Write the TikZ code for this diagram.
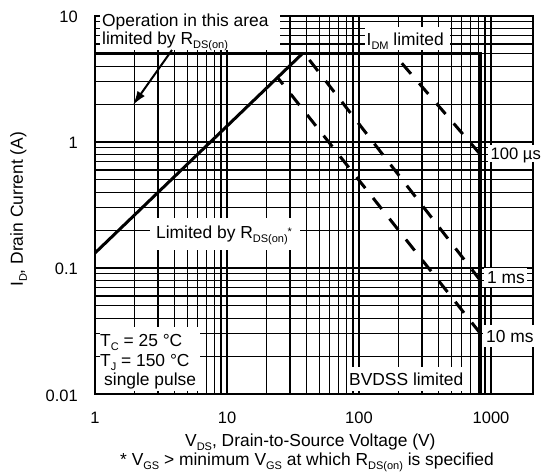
\documentclass[tikz,border=0pt]{standalone}
\usepackage{fontspec}
\setmainfont{Liberation Sans}
\usetikzlibrary{arrows.meta}
\newcommand{\sbs}[1]{\raisebox{-4pt}{\fontsize{11}{11}\selectfont #1}}
\newcommand{\sps}[1]{\raisebox{2.5pt}{\fontsize{11}{11}\selectfont #1}}
\begin{document}
\begin{tikzpicture}[x=1pt,y=-1pt,
  gridline/.style={line width=1.1pt},
  frame/.style={line width=2.2pt},
  limit/.style={line width=3pt},
  pulse/.style={line width=3pt, dash pattern=on 14pt off 12.5pt},
  mask/.style={fill=white},
  lbl/.style={inner sep=0pt, anchor=base west, font=\fontsize{17.4}{20}\selectfont},
  ticklbl/.style={inner sep=0pt, font=\fontsize{16.5}{20}\selectfont},
]
\useasboundingbox (0,0) rectangle (543,472);
% grid
\foreach \d in {0,1,2}{
  \foreach \k in {1,...,9}{
    \pgfmathsetmacro\xx{95+132*(\d+log10(\k))}
    \draw[gridline] (\xx,16) -- (\xx,394);
  }
}
\draw[gridline] (491,16) -- (491,394);
\foreach \d in {-2,-1,0}{
  \foreach \k in {1,...,9}{
    \pgfmathsetmacro\yy{16+126*(1-\d-log10(\k))}
    \draw[gridline] (95,\yy) -- (533,\yy);
  }
}
% frame
\draw[frame] (95,16) rectangle (533,394);
% limit lines
\coordinate (rdsstart) at (95,253);
\coordinate (corner) at (303,53);
\coordinate (idmstart) at (95,53);
\coordinate (bvtop) at (480,53);
\coordinate (bvbot) at (480,394);
\draw[limit] (rdsstart) -- (corner);
\draw[limit] (idmstart) -- (bvtop) -- (bvbot);
% pulse lines
\coordinate (usa) at (393,53);
\coordinate (usb) at (480,154);
\coordinate (msa) at (304,53);
\coordinate (msb) at (480,280);
\coordinate (tena) at (277.5,77.4);
\coordinate (tenb) at (480,333);
\draw[pulse, dash phase=13pt] (usa) -- (usb);
\draw[pulse, dash phase=17.7pt] (msa) -- (msb);
\draw[pulse, dash phase=5.2pt] (tena) -- (tenb);
% labels inside plot
\fill[mask] (100,5) rectangle (280,50);
\node[lbl] (op1) at (102,26) {Operation in this area};
\node[lbl] (op2) at (102,44) {limited by R\sbs{DS(on)}};
\fill[mask] (365,27) rectangle (450,50);
\node[lbl] (idm) at (366.5,45) {I\sbs{DM} limited};
\fill[mask] (150,218) rectangle (300,250);
\node[lbl] (rds) at (156,238) {Limited by R\sbs{DS(on)}\sps{*}};
\fill[mask] (488,145) rectangle (543,162);
\node[lbl, font=\fontsize{16.6}{20}\selectfont] (tus) at (490.5,159) {100 µs};
\fill[mask] (484,268) rectangle (527,287);
\node[lbl] (tms) at (487,283) {1 ms};
\fill[mask] (483,325) rectangle (543,347);
\node[lbl] (tten) at (486,342) {10 ms};
\fill[mask] (347,367) rectangle (467,391);
\node[lbl] (bv) at (349,385) {BVDSS limited};
\fill[mask] (100,327) rectangle (200,391);
\node[lbl] (tc) at (100,346) {T\sbs{C} = 25 °C};
\node[lbl] (tj) at (100,366) {T\sbs{J} = 150 °C};
\node[lbl] (sp) at (104,385) {single pulse};
% arrow
\coordinate (arrtail) at (172,50);
\coordinate (arrtip) at (133,105);
\draw[line width=2pt, -{Latex[length=14pt,width=9pt]}] (arrtail) -- (arrtip);
% tick labels
\node[ticklbl, anchor=base east] (y10) at (78,22.5) {10};
\node[ticklbl, anchor=base east] (y1) at (78,148.5) {1};
\node[ticklbl, anchor=base east] (y01) at (78,274) {0.1};
\node[ticklbl, anchor=base east] (y001) at (78,401) {0.01};
\node[ticklbl, anchor=base] (x1) at (95,423) {1};
\node[ticklbl, anchor=base] (x10) at (227,423) {10};
\node[ticklbl, anchor=base] (x100) at (359,423) {100};
\node[ticklbl, anchor=base] (x1000) at (491,423) {1000};
% axis titles
\node[lbl] (xt1) at (185,446) {V\sbs{DS}, Drain-to-Source Voltage (V)};
\node[lbl] (xt2) at (120,465) {* V\sbs{GS} > minimum V\sbs{GS} at which R\sbs{DS(on)} is specified};
\node[lbl, rotate=90] (yt) at (23,287) {I\sbs{D}, Drain Current (A)};
\end{tikzpicture}
\end{document}
